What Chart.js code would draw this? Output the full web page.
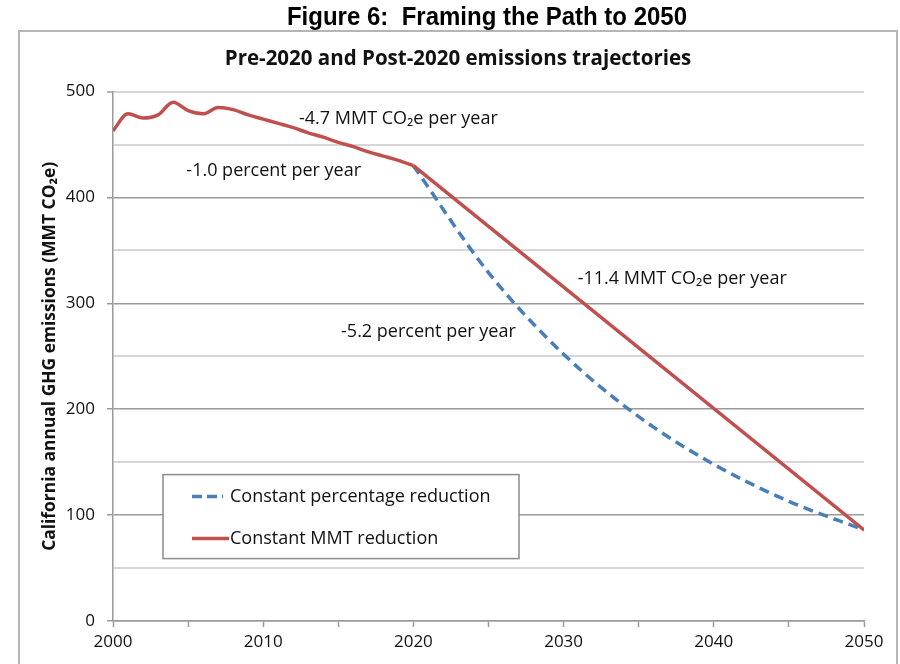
<!DOCTYPE html>
<html>
<head>
<meta charset="utf-8">
<script src="https://cdn.jsdelivr.net/npm/chart.js@4/dist/chart.umd.min.js"></script>
<style>
  html, body { margin: 0; padding: 0; background: #ffffff; }
  #wrap { position: relative; width: 900px; height: 664px; overflow: hidden; }
  #figTitle {
    position: absolute; left: 237px; top: 2px; width: 500px; text-align: center;
    font-family: "Liberation Sans Narrow", "Arial Narrow", "Liberation Sans", sans-serif;
    font-weight: bold; font-size: 24px; color: #000; white-space: nowrap; line-height: 30px;
    transform: scaleY(1.06);
  }
  canvas { position: absolute; left: 0; top: 0; }
</style>
</head>
<body>
<div id="wrap">
  <canvas id="c" width="900" height="664"></canvas>
  <div id="figTitle">Figure 6:&nbsp; Framing the Path to 2050</div>
</div>
<script>
// ---- data ----
const preYears   = [2000,2001,2002,2003,2004,2005,2006,2007,2008,2009,2010,2011,2012,2013,2014,2015,2016,2017,2018,2019,2020];
const preValues  = [463,479,475,478,490,482,479,485,483,478,474,470,466,461,457,452,448,443,439,435,430];
const mmtYears   = [2020,2050];
const mmtValues  = [430,86];
const pctYears   = [2020,2025,2030,2035,2040,2045,2050];
const pctValues  = [430,329,252,193,148,113,86];
const xTicks     = [2000,2010,2020,2030,2040,2050];
const yTicks     = [0,100,200,300,400,500];

const chartTitle = 'Pre-2020 and Post-2020 emissions trajectories';
const yTitle     = 'California annual GHG emissions (MMT CO\u2082e)';
const seriesNames = ['Constant percentage reduction', 'Constant MMT reduction'];
const noteTexts  = ['-4.7 MMT CO\u2082e per year', '-1.0 percent per year', '-11.4 MMT CO\u2082e per year', '-5.2 percent per year'];
const noteYears  = [2019.0, 2010.7, 2037.9, 2021.0];
const noteValues = [474, 425, 323, 273];

const RED = '#c0504d';
const BLUE = '#4a7ebb';
const FONT = '"Open Sans", "DejaVu Sans", sans-serif';

const toXY = (xs, ys) => xs.map((x, i) => ({x: x, y: ys[i]}));

const framePlugin = {
  id: 'frame',
  beforeDraw(chart) {
    const ctx = chart.ctx;
    ctx.save();
    ctx.fillStyle = '#ffffff';
    ctx.fillRect(0, 0, chart.width, chart.height);
    ctx.strokeStyle = '#b5b5b5';
    ctx.lineWidth = 2;
    ctx.strokeRect(19, 31, 878, 680);
    ctx.restore();
  }
};

const notesPlugin = {
  id: 'notes',
  afterDatasetsDraw(chart) {
    const ctx = chart.ctx;
    const xs = chart.scales.x, ys = chart.scales.y;
    ctx.save();
    ctx.fillStyle = '#111111';
    ctx.font = '18px ' + FONT;
    ctx.textAlign = 'center';
    ctx.textBaseline = 'middle';
    noteTexts.forEach((t, i) => {
      ctx.fillText(t, xs.getPixelForValue(noteYears[i]), ys.getPixelForValue(noteValues[i]));
    });
    // legend box
    const a = chart.chartArea;
    const bx = a.left + 50, by = a.top + 383, bw = 356, bh = 84;
    ctx.fillStyle = '#ffffff';
    ctx.fillRect(bx, by, bw, bh);
    ctx.strokeStyle = '#8c8c8c';
    ctx.lineWidth = 1.5;
    ctx.strokeRect(bx, by, bw, bh);
    const rows = [by + 22, by + 64];
    ctx.lineWidth = 3.5;
    ctx.strokeStyle = BLUE;
    ctx.setLineDash([10, 5]);
    ctx.beginPath(); ctx.moveTo(bx + 29, rows[0]); ctx.lineTo(bx + 60, rows[0]); ctx.stroke();
    ctx.setLineDash([]);
    ctx.strokeStyle = RED;
    ctx.beginPath(); ctx.moveTo(bx + 29, rows[1]); ctx.lineTo(bx + 66, rows[1]); ctx.stroke();
    ctx.fillStyle = '#111111';
    ctx.textAlign = 'left';
    ctx.fillText(seriesNames[0], bx + 67, rows[0]);
    ctx.fillText(seriesNames[1], bx + 67, rows[1]);
    ctx.restore();
  }
};

new Chart(document.getElementById('c'), {
  type: 'line',
  data: {
    datasets: [
      { label: seriesNames[1], data: toXY(preYears, preValues), borderColor: RED, borderWidth: 3.5,
        pointRadius: 0, cubicInterpolationMode: 'monotone', fill: false, order: 0 },
      { label: seriesNames[1], data: toXY(mmtYears, mmtValues), borderColor: RED, borderWidth: 3.5,
        pointRadius: 0, tension: 0, fill: false, order: 0 },
      { label: seriesNames[0], data: toXY(pctYears, pctValues), borderColor: BLUE, borderWidth: 3.5,
        borderDash: [10, 6], pointRadius: 0, cubicInterpolationMode: 'monotone', fill: false, order: 1 }
    ]
  },
  options: {
    responsive: false,
    animation: false,
    layout: { padding: { left: 20, right: 4, top: 30, bottom: 0 } },
    plugins: {
      legend: { display: false },
      tooltip: { enabled: false },
      title: {
        display: true, text: chartTitle, color: '#111111',
        font: { family: FONT, size: 20.5, weight: 'bold' },
        padding: { top: 17, bottom: 20 }
      }
    },
    scales: {
      x: {
        type: 'linear', min: 2000, max: 2050,
        afterBuildTicks(s) { s.ticks = [2000,2005,2010,2015,2020,2025,2030,2035,2040,2045,2050].map(v => ({value: v})); },
        ticks: {
          autoSkip: false, maxRotation: 0, padding: 5, color: '#111111',
          font: { family: FONT, size: 17 },
          callback: v => xTicks.includes(v) ? String(v) : ''
        },
        grid: { drawOnChartArea: false, drawTicks: true, tickLength: 6, tickColor: '#9a9a9a', tickWidth: 1.5 },
        border: { color: '#9a9a9a', width: 1.5 },
        afterFit(s) { s.height = 43; }
      },
      y: {
        min: 0, max: 500,
        ticks: {
          stepSize: 50, autoSkip: false, padding: 12, color: '#111111',
          font: { family: FONT, size: 17 },
          callback: v => yTicks.includes(v) ? String(v) : ''
        },
        grid: {
          color: c => (c.tick && c.tick.value % 100 === 0 && c.tick.value !== 500) ? '#9a9a9a' : '#d6d6d6',
          lineWidth: c => (c.tick && c.tick.value % 100 === 0 && c.tick.value !== 500) ? 1.5 : 2,
          tickColor: c => (c.tick && c.tick.value % 100 === 0) ? '#9a9a9a' : 'rgba(0,0,0,0)',
          tickLength: 6, tickWidth: 1.5
        },
        border: { color: '#9a9a9a', width: 1.5 },
        title: {
          display: true, text: yTitle, color: '#111111',
          font: { family: FONT, size: 17.4, weight: 'bold' },
          padding: { top: 20, bottom: 0 }
        },
        afterFit(s) { s.width = 93; }
      },
      yRight: {
        position: 'right', min: 0, max: 1,
        ticks: { display: false },
        grid: { drawOnChartArea: false, drawTicks: false },
        border: { display: false },
        afterFit(s) { s.width = 32; }
      }
    }
  },
  plugins: [framePlugin, notesPlugin]
});
</script>
</body>
</html>
